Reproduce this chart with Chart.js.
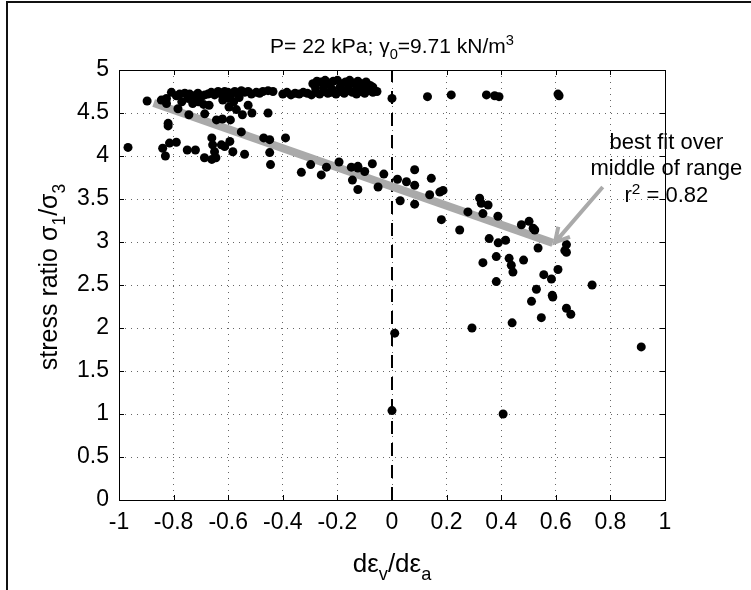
<!DOCTYPE html>
<html>
<head>
	<title>Stress ratio vs dilatancy</title>
	<script src="https://cdn.jsdelivr.net/npm/chart.js"></script>
	<style>
		body { margin: 0; background: #fff; }
		#wrap { width: 751px; height: 590px; }
	</style>
</head>
<body>
	<div id="wrap"><canvas id="myChart" width="751" height="590"></canvas></div>
	<script>
		// tick values
		const xTicks = [-1, -0.8, -0.6, -0.4, -0.2, 0, 0.2, 0.4, 0.6, 0.8, 1];
		const yTicks = [0, 0.5, 1, 1.5, 2, 2.5, 3, 3.5, 4, 4.5, 5];

		// points near peak stress ratio (upper band)
		const peakX = [-0.897, -0.845, -0.826, -0.808, -0.79, -0.778, -0.759, -0.747, -0.741, -0.723, -0.711, -0.698, -0.686, -0.674, -0.662, -0.65, -0.637, -0.625, -0.613, -0.601, -0.588, -0.576, -0.564, -0.552, -0.54, -0.527, -0.515, -0.497, -0.485, -0.473, -0.454, -0.436,
			-0.826, -0.77, -0.73, -0.71, -0.69, -0.67, -0.62, -0.58, -0.60, -0.56,
			-0.40, -0.385, -0.37, -0.355, -0.34, -0.325, -0.31, -0.295, -0.28, -0.265, -0.25, -0.235, -0.22, -0.205, -0.19, -0.175, -0.16, -0.145, -0.13, -0.115, -0.10, -0.085, -0.07, -0.055,
			-0.29, -0.275, -0.26, -0.245, -0.23, -0.215, -0.20, -0.185, -0.17, -0.155, -0.14, -0.125, -0.11, -0.095, -0.08,
			-0.28, -0.25, -0.22, -0.19, -0.16, -0.13, -0.10, -0.07,
			0, 0.13, 0.217, 0.346, 0.376, 0.392, 0.608, 0.612];
		const peakY = [4.64, 4.65, 4.67, 4.74, 4.70, 4.72, 4.73, 4.67, 4.72, 4.70, 4.73, 4.69, 4.71, 4.72, 4.74, 4.71, 4.75, 4.72, 4.75, 4.74, 4.72, 4.75, 4.73, 4.76, 4.74, 4.75, 4.72, 4.74, 4.73, 4.75, 4.76, 4.75,
			4.61, 4.63, 4.61, 4.63, 4.60, 4.59, 4.65, 4.63, 4.67, 4.68,
			4.72, 4.74, 4.71, 4.73, 4.72, 4.74, 4.73, 4.71, 4.74, 4.72, 4.75, 4.73, 4.74, 4.72, 4.75, 4.73, 4.76, 4.74, 4.72, 4.75, 4.73, 4.76, 4.74, 4.75,
			4.84, 4.87, 4.86, 4.88, 4.85, 4.87, 4.88, 4.84, 4.86, 4.88, 4.85, 4.87, 4.84, 4.86, 4.82,
			4.79, 4.80, 4.78, 4.80, 4.79, 4.81, 4.79, 4.80,
			4.67, 4.69, 4.71, 4.71, 4.70, 4.69, 4.72, 4.70];

		// remaining points (softening part)
		const restX = [-0.967, -0.784, -0.744, -0.686, -0.643, -0.621, -0.592, -0.597, -0.57, -0.548, -0.527, -0.513, -0.454,
			-0.82, -0.82, -0.84, -0.83, -0.815, -0.79, -0.75, -0.72, -0.687, -0.66, -0.657, -0.65, -0.66, -0.645, -0.625, -0.613, -0.594, -0.583, -0.54, -0.47, -0.448, -0.448, -0.445, -0.39, -0.552,
			-0.332, -0.298, -0.259, -0.240, -0.194, -0.149, -0.145, -0.125, -0.125, -0.125, -0.10, -0.072, -0.051, -0.03, 0.02, 0.03,
			0.053, 0.083, 0.083, 0.083, 0.138, 0.144, 0.175, 0.187, 0.181, 0.321, 0.352,
			0.248, 0.278, 0.327, 0.333, 0.388, 0.474, 0.502, 0.517, 0.523, 0.356, 0.389, 0.416, 0.535, 0.639, 0.633, 0.639,
			0.333, 0.382, 0.429, 0.437, 0.443, 0.482, 0.608, 0.556, 0.584, 0.382, 0.529, 0.587, 0.589, 0.511, 0.733, 0.639, 0.655, 0.547,
			0.44, 0.293, 0.01, 0.913, 0, 0.407];
		const restY = [4.10, 4.55, 4.48, 4.49, 4.42, 4.43, 4.42, 4.57, 4.54, 4.48, 4.59, 4.50, 4.50,
			4.38, 4.35, 4.09, 4.00, 4.15, 4.16, 4.07, 4.07, 3.98, 4.21, 4.13, 4.05, 3.96, 3.98, 4.13, 4.11, 4.17, 4.05, 4.02, 4.21, 4.19, 4.04, 3.90, 4.21, 4.28,
			3.81, 3.90, 3.78, 3.87, 3.93, 3.87, 3.72, 3.86, 3.88, 3.61, 3.82, 3.91, 3.64, 3.79, 3.73, 3.48,
			3.70, 3.84, 3.66, 3.44, 3.55, 3.74, 3.58, 3.60, 3.26, 3.51, 3.43,
			3.14, 3.35, 3.45, 3.33, 3.30, 3.20, 3.24, 3.16, 3.14, 3.04, 2.99, 3.02, 2.93, 2.97, 2.90, 2.88,
			2.76, 2.83, 2.81, 2.73, 2.65, 2.79, 2.68, 2.62, 2.57, 2.54, 2.45, 2.38, 2.36, 2.31, 2.50, 2.23, 2.16, 2.12,
			2.06, 2.00, 1.94, 1.78, 1.04, 1.00];

		// best fit over middle of range (end points)
		const fitX = [-0.873, 0.589];
		const fitY = [4.616, 2.99];

		const FONT = '"Liberation Sans", Arial, Helvetica, sans-serif';

		const toPoints = (xs, ys) => xs.map((x, i) => ({x: x, y: ys[i]}));

		function richWidth(ctx, parts, size) {
			let w = 0;
			parts.forEach(p => {
				ctx.font = (p[1] ? size * 0.7 : size) + 'px ' + FONT;
				w += ctx.measureText(p[0]).width;
			});
			return w;
		}
		// draw text with sub/superscripts, centred on x, baseline y
		function drawRich(ctx, parts, x, y, size) {
			let cx = x - richWidth(ctx, parts, size) / 2;
			ctx.textAlign = 'left';
			ctx.textBaseline = 'alphabetic';
			ctx.fillStyle = '#000';
			parts.forEach(p => {
				const s = p[1] ? size * 0.7 : size;
				ctx.font = s + 'px ' + FONT;
				const dy = p[1] === 'sub' ? size * 0.3 : (p[1] === 'sup' ? -size * 0.4 : 0);
				ctx.fillText(p[0], cx, y + dy);
				cx += ctx.measureText(p[0]).width;
			});
		}

		const boxPlugin = {
			id: 'box',
			beforeDatasetsDraw(chart) {
				const ctx = chart.ctx, a = chart.chartArea;
				const xs = chart.scales.x, ys = chart.scales.y;
				ctx.save();
				ctx.strokeStyle = '#000';
				ctx.lineWidth = 1;
				ctx.strokeRect(a.left + 0.5, a.top + 0.5, a.right - a.left, a.bottom - a.top);
				ctx.beginPath();
				xTicks.forEach(v => {
					const px = Math.round(xs.getPixelForValue(v)) + 0.5;
					ctx.moveTo(px, a.bottom); ctx.lineTo(px, a.bottom - 5);
					ctx.moveTo(px, a.top); ctx.lineTo(px, a.top + 5);
				});
				yTicks.forEach(v => {
					const py = Math.round(ys.getPixelForValue(v)) + 0.5;
					ctx.moveTo(a.left, py); ctx.lineTo(a.left + 5, py);
					ctx.moveTo(a.right, py); ctx.lineTo(a.right - 5, py);
				});
				ctx.stroke();
				ctx.restore();
			},
			afterDraw(chart) {
				const ctx = chart.ctx, a = chart.chartArea;
				const xs = chart.scales.x, ys = chart.scales.y;
				const midX = (a.left + a.right) / 2;
				ctx.save();
				// outer frame of the figure
				ctx.strokeStyle = '#111';
				ctx.lineWidth = 2;
				ctx.beginPath();
				ctx.moveTo(7, 590); ctx.lineTo(7, 2); ctx.lineTo(751, 2);
				ctx.stroke();
				// title
				drawRich(ctx, [['P= 22 kPa; \u03B3'], ['0', 'sub'], ['=9.71 kN/m'], ['3', 'sup']], midX, 53, 21);
				// x label
				drawRich(ctx, [['d\u03B5'], ['v', 'sub'], ['/d\u03B5'], ['a', 'sub']], midX, 572, 26);
				// y label
				ctx.save();
				ctx.translate(57, (a.top + a.bottom) / 2 - 8);
				ctx.rotate(-Math.PI / 2);
				drawRich(ctx, [['stress ratio \u03C3'], ['1', 'sub'], ['/\u03C3'], ['3', 'sub']], 0, 0, 25);
				ctx.restore();
				// annotation text
				const nx = xs.getPixelForValue(1.005);
				drawRich(ctx, [['best fit over']], nx, ys.getPixelForValue(4.08), 22);
				drawRich(ctx, [['middle of range']], nx, ys.getPixelForValue(3.775), 22);
				drawRich(ctx, [['r'], ['2', 'sup'], [' = 0.82']], nx, ys.getPixelForValue(3.46), 22);
				// arrow to the end of the fit line
				const x0 = xs.getPixelForValue(0.772), y0 = ys.getPixelForValue(3.64);
				const x1 = xs.getPixelForValue(0.597), y1 = ys.getPixelForValue(2.995);
				const ang = Math.atan2(y1 - y0, x1 - x0);
				ctx.strokeStyle = '#aaaaaa';
				ctx.lineWidth = 4;
				ctx.lineCap = 'butt';
				ctx.beginPath();
				ctx.moveTo(x0, y0); ctx.lineTo(x1, y1);
				ctx.moveTo(x1 - 16 * Math.cos(ang - 0.5), y1 - 16 * Math.sin(ang - 0.5));
				ctx.lineTo(x1, y1);
				ctx.lineTo(x1 - 16 * Math.cos(ang + 0.5), y1 - 16 * Math.sin(ang + 0.5));
				ctx.stroke();
				ctx.restore();
			}
		};

		const ctx = document.getElementById('myChart').getContext('2d');
		const myChart = new Chart(ctx, {
			type: 'scatter',
			data: {
				datasets: [
					{
						label: 'tests',
						data: toPoints(peakX, peakY).concat(toPoints(restX, restY)),
						backgroundColor: '#000',
						borderColor: '#000',
						pointRadius: 4.5,
						borderWidth: 0,
						order: 0
					},
					{
						type: 'line',
						label: 'best fit',
						data: toPoints(fitX, fitY),
						borderColor: '#aaaaaa',
						borderWidth: 8,
						pointRadius: 0,
						borderCapStyle: 'butt',
						order: 1
					},
					{
						type: 'line',
						label: 'zero dilatancy',
						data: toPoints([0, 0], [0, 5]),
						borderColor: '#000',
						borderWidth: 2,
						borderDash: [13, 9],
						pointRadius: 0,
						order: 2
					}
				]
			},
			options: {
				responsive: false,
				animation: false,
				layout: { padding: { top: 70, right: 86, left: 0, bottom: 0 } },
				plugins: { legend: { display: false }, tooltip: { enabled: false } },
				scales: {
					x: {
						type: 'linear',
						min: -1, max: 1,
						afterBuildTicks: s => { s.ticks = xTicks.map(v => ({value: v})); },
						afterFit: s => { s.height = 90; },
						grid: { color: '#666', lineWidth: 1, drawTicks: false },
						border: { display: false, dash: [1, 5] },
						ticks: {
							padding: 9,
							color: '#000',
							font: { family: FONT, size: 23 },
							callback: v => String(Number(v.toFixed(1)))
						}
					},
					y: {
						type: 'linear',
						min: 0, max: 5,
						afterBuildTicks: s => { s.ticks = yTicks.map(v => ({value: v})); },
						afterFit: s => { s.width = 119; },
						grid: { color: '#666', lineWidth: 1, drawTicks: false },
						border: { display: false, dash: [1, 5] },
						ticks: {
							padding: 10,
							color: '#000',
							font: { family: FONT, size: 23 },
							callback: v => String(Number(v.toFixed(1)))
						}
					}
				}
			},
			plugins: [boxPlugin]
		});
	</script>
</body>
</html>
